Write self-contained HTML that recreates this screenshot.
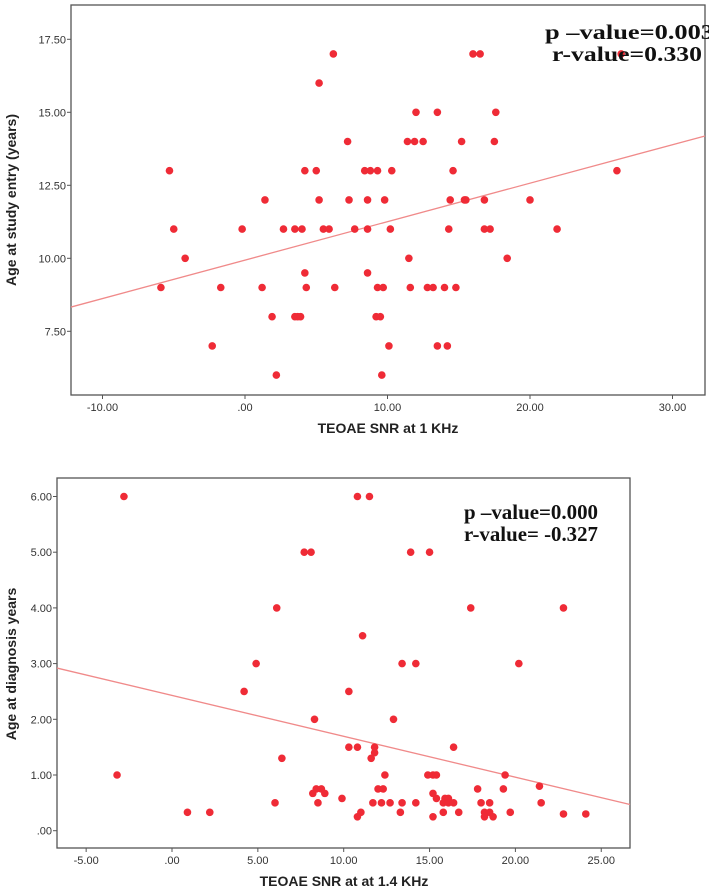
<!DOCTYPE html>
<html><head><meta charset="utf-8"><style>
html,body{margin:0;padding:0;background:#fff;width:709px;height:888px;overflow:hidden}
svg{display:block}
.tick{font-family:"Liberation Sans",sans-serif;font-size:11px;fill:#333}
.ttl{font-family:"Liberation Sans",sans-serif;font-size:14px;font-weight:bold;fill:#222}
.stat{font-family:"Liberation Serif",serif;font-size:21px;font-weight:bold;fill:#111}
</style></head><body>
<svg id="svg" width="709" height="888"></svg>
<script>
// Chart 1 data
const c1X = [6.2,16.0,16.5,26.4,5.2,12.0,13.5,17.6,7.2,11.4,11.9,12.5,15.2,17.5,-5.3,4.2,5.0,8.4,8.8,9.3,10.3,14.6,26.1,1.4,5.2,7.3,8.6,9.8,14.4,15.4,15.5,16.8,20.0,-5.0,-0.2,2.7,3.5,4.0,5.5,5.9,7.7,8.6,10.2,14.3,16.8,17.2,21.9,-4.2,11.5,18.4,4.2,8.6,-5.9,-1.7,1.2,4.3,6.3,9.3,9.7,11.6,12.8,13.2,14.0,14.8,1.9,3.5,3.7,3.9,9.2,9.5,-2.3,10.1,13.5,14.2,2.2,9.6];
const c1Y = [17,17,17,17,16,15,15,15,14,14,14,14,14,14,13,13,13,13,13,13,13,13,13,12,12,12,12,12,12,12,12,12,12,11,11,11,11,11,11,11,11,11,11,11,11,11,11,10,10,10,9.5,9.5,9,9,9,9,9,9,9,9,9,9,9,9,8,8,8,8,8,8,7,7,7,7,6,6];
const c1Fit = [8.33, 14.19];
const c1XTicks = [-10,0,10,20,30];
const c1XLabels = ["-10.00",".00","10.00","20.00","30.00"];
const c1YTicks = [7.5,10,12.5,15,17.5];
const c1YLabels = ["7.50","10.00","12.50","15.00","17.50"];
// Chart 2 data
const c2X = [-2.8,10.8,11.5,7.7,8.1,13.9,15.0,6.1,17.4,22.8,11.1,4.9,13.4,14.2,20.2,4.2,10.3,8.3,12.9,10.3,10.8,11.8,16.4,11.8,6.4,11.6,-3.2,12.4,14.9,15.2,15.4,19.4,21.4,8.4,8.7,12.0,12.3,17.8,19.3,8.2,8.9,15.2,9.9,15.4,15.9,16.1,6.0,8.5,11.7,12.2,12.7,13.4,14.2,15.8,16.1,16.4,18.0,18.5,21.5,0.9,2.2,11.0,13.3,15.8,16.7,18.2,18.5,19.7,22.8,24.1,10.8,15.2,18.2,18.7];
const c2Y = [6,6,6,5,5,5,5,4,4,4,3.5,3,3,3,3,2.5,2.5,2,2,1.5,1.5,1.5,1.5,1.4,1.3,1.3,1,1,1,1,1,1,0.8,0.75,0.75,0.75,0.75,0.75,0.75,0.67,0.67,0.67,0.58,0.58,0.58,0.58,0.5,0.5,0.5,0.5,0.5,0.5,0.5,0.5,0.5,0.5,0.5,0.5,0.5,0.33,0.33,0.33,0.33,0.33,0.33,0.33,0.33,0.33,0.3,0.3,0.25,0.25,0.25,0.25];
const c2Fit = [2.92, 0.47];
const c2XTicks = [-5,0,5,10,15,20,25];
const c2XLabels = ["-5.00",".00","5.00","10.00","15.00","20.00","25.00"];
const c2YTicks = [0,1,2,3,4,5,6];
const c2YLabels = [".00","1.00","2.00","3.00","4.00","5.00","6.00"];

const NS="http://www.w3.org/2000/svg", svg=document.getElementById('svg');
function mk(t,a,p){const e=document.createElementNS(NS,t);for(const k in a)e.setAttribute(k,a[k]);(p||svg).appendChild(e);return e;}

function chart(o){
  const g=mk('g',{});
  
  
  const sx=v=>o.x0px+(v-o.x0v)*o.xs, sy=v=>o.y0px-(v-o.y0v)*o.ys;
  const f=mk('rect',{x:o.L,y:o.T,width:o.R-o.L,height:o.B-o.T,fill:'none',stroke:'#555','stroke-width':1.3},g);
  
  
  o.xt.forEach((v,i)=>{const x=sx(v);
    mk('line',{x1:x,x2:x,y1:o.B,y2:o.B+4,stroke:'#555'},g);
    const t=mk('text',{x:x,y:o.B+16,'text-anchor':'middle',class:'tick'},g);t.textContent=o.xl[i];
    
    });
  o.yt.forEach((v,i)=>{const y=sy(v);
    mk('line',{x1:o.L-4,x2:o.L,y1:y,y2:y,stroke:'#555'},g);
    const t=mk('text',{x:o.L-5,y:y+4,'text-anchor':'end',class:'tick'},g);t.textContent=o.yl[i];
    
    });
  const ln=mk('line',{x1:o.L,y1:sy(o.fit[0]),x2:o.R,y2:sy(o.fit[1]),stroke:'#f08a8a','stroke-width':1.3},g);
  
  
  o.X.forEach((v,i)=>{const c=mk('circle',{cx:sx(v),cy:sy(o.Y[i]),r:3.8,fill:'#ef2b36'},g);
    
    });
  const xt=mk('text',{x:o.xtx,y:o.xty,'text-anchor':'middle',class:'ttl'},g);xt.textContent=o.xtitle;
  
  
  const yt=mk('text',{x:0,y:0,'text-anchor':'middle',class:'ttl',transform:`translate(${o.ytx},${o.yty}) rotate(-90)`},g);yt.textContent=o.ytitle;
  
  
  o.stats.forEach(s=>{const t=mk('text',{x:s[0],y:s[1],class:'stat',textLength:s[3],lengthAdjust:'spacingAndGlyphs'},g);t.textContent=s[2];
    
    });
}
chart({name:'chart-age-entry',L:71,T:5,R:705,B:395,x0v:0,x0px:245,xs:14.25,y0v:10,y0px:258.3,ys:29.2,
  X:c1X,Y:c1Y,fit:c1Fit,xt:c1XTicks,xl:c1XLabels,yt:c1YTicks,yl:c1YLabels,
  xtitle:'TEOAE SNR at 1 KHz',xtx:388,xty:433,ytitle:'Age at study entry (years)',ytx:16,yty:200,
  stats:[[545,39,'p –value=0.003',169],[552,61,'r-value=0.330',150]]});
chart({name:'chart-age-diagnosis',L:57,T:478,R:630,B:848,x0v:0,x0px:172,xs:17.17,y0v:0,y0px:830.7,ys:55.7,
  X:c2X,Y:c2Y,fit:c2Fit,xt:c2XTicks,xl:c2XLabels,yt:c2YTicks,yl:c2YLabels,
  xtitle:'TEOAE SNR at at 1.4 KHz',xtx:344,xty:886,ytitle:'Age at diagnosis years',ytx:16,yty:664,
  stats:[[464,519,'p –value=0.000',134],[464,541,'r-value= -0.327',134]]});
</script>
</body></html>
